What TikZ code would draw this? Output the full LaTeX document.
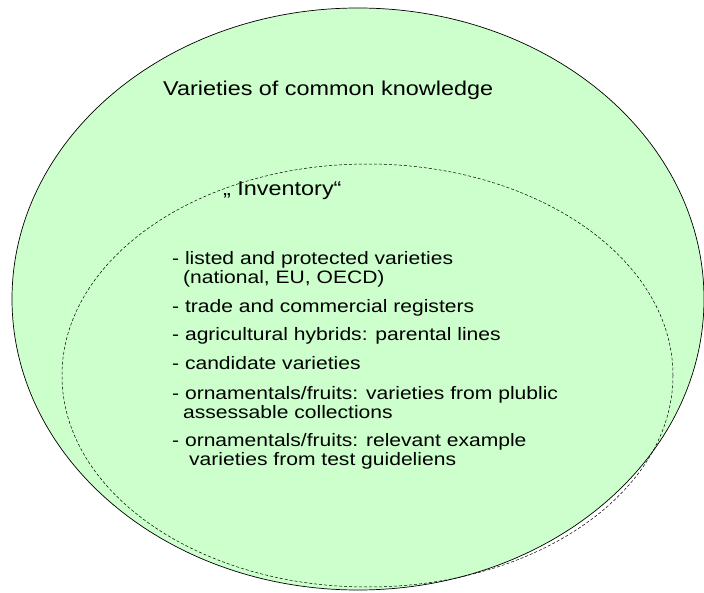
\documentclass[tikz,border=0pt]{standalone}
\usepackage{fontspec}
\setmainfont{Liberation Sans}[FakeStretch=1.17]
\usepackage{tikz}
\usetikzlibrary{shapes,positioning}
\definecolor{lightgreen}{RGB}{204,255,204}
\tikzset{
    knownset/.style={ellipse,draw,fill=lightgreen,inner sep=0pt,line width=0.7pt},
    inventoryset/.style={ellipse,draw,dash pattern=on 3pt off 2pt,inner sep=0pt,line width=0.5pt},
    heading/.style={anchor=base west,inner sep=0pt,font=\fontsize{20}{22}\selectfont},
    entry/.style={anchor=base west,align=left,inner sep=0pt,font=\fontsize{18}{19}\selectfont},
}

\begin{document}
\begin{tikzpicture}[x=1pt,y=-1pt]
    \useasboundingbox (0,0) rectangle (704,593);
    \node [knownset,minimum width=692pt,minimum height=582pt] (common) at (358,299) {};
    \node [inventoryset,minimum width=611pt,minimum height=423pt] (inventory) at (367.5,375.5) {};

    \node [heading] (lcommon) at (163,96) {Varieties of common knowledge};
    \node [heading] (linventory) at (223,196) {„ Inventory“};

    % base of a two-line entry is its last line
    \node [entry] (e1) at (172,284) {- listed and protected varieties\\\hspace*{11pt}(national, EU, OECD)};
    \node [entry,below=29pt of e1.base west,anchor=base west] (e2) {- trade and commercial registers};
    \node [entry,below=28pt of e2.base west,anchor=base west] (e3) {- agricultural hybrids: parental lines};
    \node [entry,below=29pt of e3.base west,anchor=base west] (e4) {- candidate varieties};
    \node [entry,below=48pt of e4.base west,anchor=base west] (e5) {- ornamentals/fruits: varieties from plublic\\\hspace*{11pt}assessable collections};
    \node [entry,below=47pt of e5.base west,anchor=base west] (e6) {- ornamentals/fruits: relevant example\\\hspace*{17pt}varieties from test guideliens};
\end{tikzpicture}
\end{document}
